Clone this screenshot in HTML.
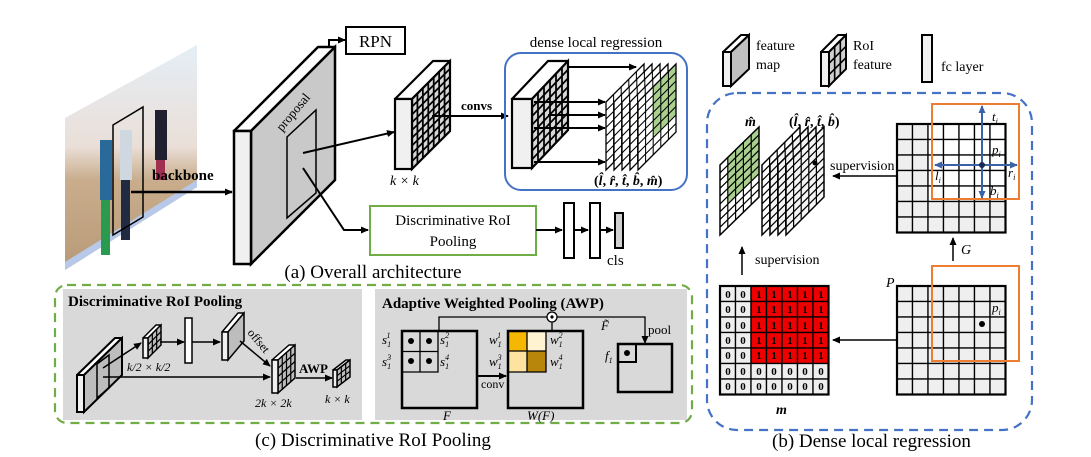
<!DOCTYPE html>
<html><head><meta charset="utf-8"><style>
html,body{margin:0;padding:0;background:#fff;}
svg{display:block;font-family:"Liberation Serif",serif;}
.it{font-style:italic;}
.b{font-weight:bold;}
</style></head><body>
<svg id="s" width="1091" height="457" viewBox="0 0 1091 457" xmlns="http://www.w3.org/2000/svg">
<defs>
<linearGradient id="ph" x1="0" y1="0" x2="0" y2="1">
<stop offset="0" stop-color="#e4eef6"/><stop offset="0.45" stop-color="#eadfd8"/><stop offset="0.6" stop-color="#c9ad8c"/><stop offset="1" stop-color="#b89a78"/>
</linearGradient>
<marker id="a" markerWidth="8" markerHeight="8" refX="7" refY="4" orient="auto" markerUnits="userSpaceOnUse"><path d="M0,0.5 L8,4 L0,7.5 z" fill="#000"/></marker>
<marker id="ab" markerWidth="8" markerHeight="8" refX="7" refY="4" orient="auto" markerUnits="userSpaceOnUse"><path d="M0,0.5 L8,4 L0,7.5 z" fill="#3a62a8"/></marker>
</defs>

<!-- photo -->
<polygon points="65,118 197,45 197,187 65,270" fill="url(#ph)"/>
<polygon points="65,262 197,180 197,187 65,270" fill="#b8c8e8"/>
<rect x="100" y="140" width="12" height="60" fill="#2a6a9a"/><rect x="101" y="200" width="9" height="55" fill="#2a9a50"/>
<rect x="120" y="130" width="12" height="50" fill="#cfd8e0"/><rect x="121" y="180" width="9" height="60" fill="#202a40"/>
<rect x="155" y="110" width="12" height="50" fill="#202030"/><rect x="156" y="160" width="9" height="20" fill="#a03050"/>
<polygon points="113,125 143,107 143,217 113,235" fill="none" stroke="#000" stroke-width="1.5"/>
<text x="152" y="180" class="b" font-size="15">backbone</text>
<line x1="131" y1="192" x2="232" y2="192" stroke="#000" stroke-width="2.5" marker-end="url(#a)"/>

<g id="dyn"></g>

<!-- proposal rect -->
<polygon points="287,137 316,110 316,193 287,218" fill="none" stroke="#000" stroke-width="1.5"/>
<text x="0" y="0" font-size="13" transform="translate(282,132) rotate(-50)">proposal</text>
<line x1="303" y1="153" x2="394" y2="132" stroke="#000" stroke-width="2" marker-end="url(#a)"/>
<polyline points="303,168 344,230 368,230" fill="none" stroke="#000" stroke-width="2" marker-end="url(#a)"/>
<polyline points="329,48 329,40 345,40" fill="none" stroke="#000" stroke-width="2" marker-end="url(#a)"/>
<rect x="346" y="27" width="59" height="27" fill="#fff" stroke="#000" stroke-width="2"/>
<text x="375.5" y="47" font-size="17" text-anchor="middle">RPN</text>
<text x="390" y="185" class="it" font-size="14">k × k</text>
<line x1="432" y1="116" x2="508" y2="116" stroke="#000" stroke-width="2" marker-end="url(#a)"/>
<text x="461" y="110" class="b" font-size="13">convs</text>

<rect x="505" y="53" width="182" height="137" rx="16" fill="none" stroke="#4472c4" stroke-width="2"/>
<text x="596" y="47" font-size="15" text-anchor="middle">dense local regression</text>
<text x="594" y="185" font-size="14" class="b">(<tspan class="it">l̂</tspan>, <tspan class="it">r̂</tspan>, <tspan class="it">t̂</tspan>, <tspan class="it">b̂</tspan>, <tspan class="it">m̂</tspan>)</text>

<rect x="370" y="206" width="166" height="49" fill="#fff" stroke="#70ad47" stroke-width="2"/>
<text x="453" y="225" font-size="15" text-anchor="middle">Discriminative RoI</text>
<text x="453" y="246" font-size="15" text-anchor="middle">Pooling</text>
<line x1="536" y1="230" x2="562" y2="230" stroke="#000" stroke-width="2" marker-end="url(#a)"/>
<rect x="564" y="203" width="10" height="55" fill="#fff" stroke="#000" stroke-width="2"/>
<line x1="574" y1="230" x2="588" y2="230" stroke="#000" stroke-width="2" marker-end="url(#a)"/>
<rect x="590" y="203" width="10" height="55" fill="#fff" stroke="#000" stroke-width="2"/>
<line x1="600" y1="230" x2="613" y2="230" stroke="#000" stroke-width="2" marker-end="url(#a)"/>
<rect x="615" y="213" width="8" height="35" fill="#d0d0d0" stroke="#000" stroke-width="2"/>
<text x="607" y="265" font-size="15">cls</text>
<text x="373" y="278" font-size="19" text-anchor="middle">(a) Overall architecture</text>

<!-- legend -->
<text x="756" y="50" font-size="14">feature</text>
<text x="756" y="69" font-size="14">map</text>
<text x="853" y="50" font-size="14">RoI</text>
<text x="853" y="69" font-size="14">feature</text>
<rect x="922" y="35" width="10" height="47" fill="#f2f2f2" stroke="#000" stroke-width="2"/>
<text x="941" y="71" font-size="14">fc layer</text>

<!-- (b) -->
<rect x="707" y="93" width="325" height="337" rx="30" fill="none" stroke="#4472c4" stroke-width="2.2" stroke-dasharray="9,6"/>
<text x="745" y="126" font-size="14" class="b it">m̂</text>
<text x="789" y="126" font-size="14" class="b">(<tspan class="it">l̂</tspan>, <tspan class="it">r̂</tspan>, <tspan class="it">t̂</tspan>, <tspan class="it">b̂</tspan>)</text>
<text x="830" y="170" font-size="14">supervision</text>
<line x1="896" y1="176" x2="833" y2="176" stroke="#000" stroke-width="1.5" marker-end="url(#a)"/>
<line x1="896" y1="340" x2="833" y2="340" stroke="#000" stroke-width="1.5" marker-end="url(#a)"/>
<line x1="742" y1="275" x2="742" y2="247" stroke="#000" stroke-width="1.5" marker-end="url(#a)"/>
<text x="755" y="264" font-size="14">supervision</text>
<line x1="953" y1="261" x2="953" y2="238" stroke="#000" stroke-width="1.5" marker-end="url(#a)"/>
<text x="961" y="254" font-size="14" class="it">G</text>
<text x="886" y="287" font-size="14" class="it">P</text>
<text x="776" y="414" font-size="14" class="b it">m</text>
<g font-size="11" class="b" text-anchor="middle">
<text x="728 743 759 774 790 805 821" y="298">0011111</text>
<text x="728 743 759 774 790 805 821" y="313">0011111</text>
<text x="728 743 759 774 790 805 821" y="329">0011111</text>
<text x="728 743 759 774 790 805 821" y="344">0011111</text>
<text x="728 743 759 774 790 805 821" y="359">0011111</text>
<text x="728 743 759 774 790 805 821" y="375">0000000</text>
<text x="728 743 759 774 790 805 821" y="390">0000000</text>
</g>
<rect x="932" y="104" width="87" height="95" fill="none" stroke="#ed7d31" stroke-width="2"/>
<rect x="932" y="266" width="87" height="95" fill="none" stroke="#ed7d31" stroke-width="2"/>
<g stroke="#3a62a8" stroke-width="2">
<line x1="982" y1="165" x2="982" y2="106" marker-end="url(#ab)"/>
<line x1="982" y1="165" x2="982" y2="198" marker-end="url(#ab)"/>
<line x1="982" y1="165" x2="935" y2="165" marker-end="url(#ab)"/>
<line x1="982" y1="165" x2="1017" y2="165" marker-end="url(#ab)"/>
</g>
<circle cx="982" cy="165" r="3" fill="#1a2a50"/>
<circle cx="982" cy="324" r="3" fill="#000"/>
<g font-size="13" class="it">
<text x="992" y="121">t<tspan font-size="8" dy="3">i</tspan></text>
<text x="992" y="154">p<tspan font-size="8" dy="3">i</tspan></text>
<text x="935" y="180">l<tspan font-size="8" dy="3">i</tspan></text>
<text x="1008" y="177">r<tspan font-size="8" dy="3">i</tspan></text>
<text x="990" y="195">b<tspan font-size="8" dy="3">i</tspan></text>
<text x="992" y="312">p<tspan font-size="8" dy="3">i</tspan></text>
</g>
<text x="772" y="447" font-size="19">(b) Dense local regression</text>

<!-- (c) -->
<rect x="55" y="285" width="637" height="138" rx="12" fill="none" stroke="#70ad47" stroke-width="2.2" stroke-dasharray="9,6"/>
<rect x="63" y="289" width="299" height="131" fill="#d9d9d9"/>
<rect x="375" y="289" width="312" height="131" fill="#d9d9d9"/>
<text x="68" y="306" font-size="15" class="b">Discriminative RoI Pooling</text>
<text x="382" y="308" font-size="15" class="b">Adaptive Weighted Pooling (AWP)</text>
<g id="dyn2"></g>
<polygon points="97,364 109,355 109,388 97,398" fill="none" stroke="#000" stroke-width="1.5"/>
<line x1="103" y1="368" x2="141" y2="343" stroke="#000" stroke-width="1.5" marker-end="url(#a)"/>
<line x1="103" y1="377" x2="270" y2="377" stroke="#000" stroke-width="1.5" marker-end="url(#a)"/>
<line x1="160" y1="342" x2="184" y2="342" stroke="#000" stroke-width="1.5" marker-end="url(#a)"/>
<rect x="185" y="318" width="7" height="45" fill="#fff" stroke="#000" stroke-width="1.5"/>
<line x1="192" y1="342" x2="220" y2="342" stroke="#000" stroke-width="1.5" marker-end="url(#a)"/>
<line x1="240" y1="341" x2="270" y2="366" stroke="#000" stroke-width="1.5" marker-end="url(#a)"/>
<text font-size="12" transform="translate(247,333) rotate(50)">offset</text>
<text x="299" y="373" font-size="13" class="b">AWP</text>
<line x1="296" y1="378" x2="332" y2="378" stroke="#000" stroke-width="1.5" marker-end="url(#a)"/>
<text x="127" y="371" font-size="12" class="it">k/2 × k/2</text>
<text x="255" y="407" font-size="12" class="it">2k × 2k</text>
<text x="325" y="403" font-size="12" class="it">k × k</text>

<rect x="402" y="331" width="75" height="77" fill="none" stroke="#000" stroke-width="2.5"/>
<path d="M402,372 H438 V331 M420,331 V372 M402,351.5 H438" fill="none" stroke="#000" stroke-width="1.3"/>
<circle cx="411" cy="341" r="3" fill="#000"/><circle cx="429" cy="341" r="3" fill="#000"/>
<circle cx="411" cy="361" r="3" fill="#000"/><circle cx="429" cy="361" r="3" fill="#000"/>
<rect x="508" y="331" width="19" height="20" fill="#f5b700"/><rect x="527" y="331" width="19" height="20" fill="#fff3d2"/>
<rect x="508" y="351" width="19" height="21" fill="#fde2a0"/><rect x="527" y="351" width="19" height="21" fill="#b8860b"/>
<path d="M508,372 H546 V331 M527,331 V372 M508,351 H546" fill="none" stroke="#000" stroke-width="1.3"/>
<rect x="508" y="331" width="75" height="77" fill="none" stroke="#000" stroke-width="2.5"/>
<line x1="477" y1="376" x2="506" y2="376" stroke="#000" stroke-width="2" marker-end="url(#a)"/>
<text x="481" y="388" font-size="12">conv</text>
<polyline points="439,331 439,317 547,317" fill="none" stroke="#000" stroke-width="1.3"/>
<polyline points="557,317 645,317 645,343" fill="none" stroke="#000" stroke-width="1.3" marker-end="url(#a)"/>
<line x1="552" y1="322" x2="552" y2="331" stroke="#000" stroke-width="1.3"/>
<circle cx="552" cy="317" r="5" fill="#fff" stroke="#000" stroke-width="1.3"/><circle cx="552" cy="317" r="1.6" fill="#000"/>
<rect x="618" y="344" width="54" height="48" fill="none" stroke="#000" stroke-width="2.5"/>
<rect x="618" y="344" width="18" height="18" fill="none" stroke="#000" stroke-width="2"/>
<circle cx="627" cy="353" r="3" fill="#000"/>
<g font-size="13" class="it">
<text x="382" y="344">s<tspan font-size="8" dy="3">1</tspan><tspan font-size="8" dx="-4" dy="-9">1</tspan></text>
<text x="382" y="366">s<tspan font-size="8" dy="3">1</tspan><tspan font-size="8" dx="-4" dy="-9">3</tspan></text>
<text x="440" y="344">s<tspan font-size="8" dy="3">1</tspan><tspan font-size="8" dx="-4" dy="-9">2</tspan></text>
<text x="440" y="366">s<tspan font-size="8" dy="3">1</tspan><tspan font-size="8" dx="-4" dy="-9">4</tspan></text>
<text x="489" y="344">w<tspan font-size="8" dy="3">1</tspan><tspan font-size="8" dx="-4" dy="-9">1</tspan></text>
<text x="489" y="366">w<tspan font-size="8" dy="3">1</tspan><tspan font-size="8" dx="-4" dy="-9">3</tspan></text>
<text x="550" y="344">w<tspan font-size="8" dy="3">1</tspan><tspan font-size="8" dx="-4" dy="-9">2</tspan></text>
<text x="550" y="366">w<tspan font-size="8" dy="3">1</tspan><tspan font-size="8" dx="-4" dy="-9">4</tspan></text>
<text x="605" y="360">f<tspan font-size="8" dy="3">1</tspan></text>
<text x="601" y="330">F̃</text>
<text x="443" y="420">F</text>
<text x="527" y="420">W(F)</text>
</g>
<text x="648" y="334" font-size="13">pool</text>
<text x="373" y="446" font-size="19" text-anchor="middle">(c) Discriminative RoI Pooling</text>
</svg>
<script>
var NS="http://www.w3.org/2000/svg";
function el(p,t,a){var e=document.createElementNS(NS,t);for(var k in a)e.setAttribute(k,a[k]);p.appendChild(e);return e;}
// parallelogram grid: TL(x0,y0), TR(x1,y1), height h
function pgrid(p,x0,y0,x1,y1,h,cols,rows,fill,sw,cells){
  var g=el(p,"g",{transform:"matrix("+(x1-x0)+","+(y1-y0)+",0,"+h+","+x0+","+y0+")"});
  el(g,"rect",{x:0,y:0,width:1,height:1,fill:fill||"#fff"});
  if(cells){cells.forEach(function(c){el(g,"rect",{x:c[0]/cols,y:c[1]/rows,width:1/cols,height:1/rows,fill:c[2]});});}
  var d="";for(var i=1;i<cols;i++)d+="M"+(i/cols)+",0V1";for(var j=1;j<rows;j++)d+="M0,"+(j/rows)+"H1";
  el(g,"path",{d:d,stroke:"#000","stroke-width":sw*0.8,fill:"none","vector-effect":"non-scaling-stroke"});
  el(g,"rect",{x:0,y:0,width:1,height:1,fill:"none",stroke:"#000","stroke-width":sw,"vector-effect":"non-scaling-stroke"});
}
function box(p,fx,fy,fw,fh,dx,dy,side,cols,rows,sw){
  el(p,"polygon",{points:fx+","+fy+" "+(fx+dx)+","+(fy-dy)+" "+(fx+fw+dx)+","+(fy-dy)+" "+(fx+fw)+","+fy,fill:"#fff",stroke:"#000","stroke-width":sw,"stroke-linejoin":"round"});
  if(cols) pgrid(p,fx+fw,fy,fx+fw+dx,fy-dy,fh,cols,rows,side,sw);
  else el(p,"polygon",{points:(fx+fw)+","+fy+" "+(fx+fw+dx)+","+(fy-dy)+" "+(fx+fw+dx)+","+(fy+fh-dy)+" "+(fx+fw)+","+(fy+fh),fill:side,stroke:"#000","stroke-width":sw});
  el(p,"rect",{x:fx,y:fy,width:fw,height:fh,fill:"#f0f0f0",stroke:"#000","stroke-width":sw});
}
var D=document.getElementById("dyn");
box(D,234,131,17,133,84,84,"#c9c9c9",0,0,2.5);
box(D,395,99,17,70,38,38,"#d8d8d8",7,9,2.2);
box(D,512,99,20,69,36,38,"#d8d8d8",6,8,2.2);
[[568,67,636],[534,102,605],[548,115,605],[534,128,605],[534,162,605]].forEach(function(a){el(D,"line",{x1:a[0],y1:a[1],x2:a[2],y2:a[1],stroke:"#000","stroke-width":2,"marker-end":"url(#a)"});});
for(var i=0;i<5;i++){var x0=606+i*8;var cells=[];
 if(i==4){for(var c=2;c<5;c++)for(var r=0;r<6;r++)cells.push([c,r,"#a9d08e"]);}
 pgrid(D,x0,102-i*0,x0+38,64-i*0,68,5,8,"#fff",1.3,cells);}
// legend
box(D,723,52,8,34,18,17,"#c0c0c0",0,0,2);
box(D,821,52,8,34,17,17,"#d0d0d0",3,3,2);
// m hat
var gc=[];for(var c=1;c<5;c++)for(var r=0;r<6;r++)gc.push([c,r,"#a9d08e"]);
pgrid(D,720,165,759,127,70,5,9,"#fff",1.5,gc);
for(var i=0;i<4;i++){pgrid(D,762+i*8,165,800+i*8,127,70,5,9,i==0?"#fff":"#f4f4f4",1.5);}
el(D,"circle",{cx:815,cy:163,r:2.5,fill:"#000"});
// flat grids
function fgrid(x,y,n,s,f){for(var r=0;r<n;r++)for(var c=0;c<n;c++){el(D,"rect",{x:x+c*s,y:y+r*s,width:s,height:s,fill:f(c,r),stroke:"#000","stroke-width":1.3});}
 el(D,"rect",{x:x,y:y,width:n*s,height:n*s,fill:"none",stroke:"#000","stroke-width":2.2});}
fgrid(720,286,7,15.5,function(c,r){return (c>=2&&r<5)?"#ee0000":"#eeeeee";});
fgrid(897,124,7,15.5,function(c,r){return (c>=2&&r<5)?"#ffffff":"#efefef";});
fgrid(897,286,7,15.5,function(c,r){return "#efefef";});
// (c)
var E=document.getElementById("dyn2");
box(E,77,375,7,37,38,37,"#bdbdbd",0,0,2);
box(E,143,338,5,20,13,13,"#bdbdbd",3,3,1.5);
box(E,222,332,6,28,16,19,"#bdbdbd",0,0,1.5);
box(E,272,360,6,33,17,15,"#bdbdbd",4,4,1.5);
box(E,333,370,4,17,13,10,"#bdbdbd",3,3,1.5);
</script>
</body></html>
